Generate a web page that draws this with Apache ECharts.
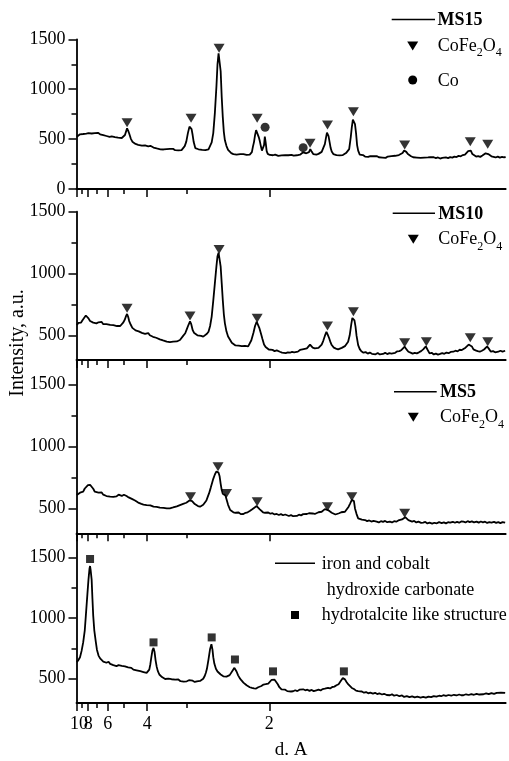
<!DOCTYPE html>
<html>
<head>
<meta charset="utf-8">
<title>XRD patterns</title>
<script src="https://cdn.jsdelivr.net/npm/echarts@6/dist/echarts.min.js"></script>
<style>
  html, body { margin: 0; padding: 0; background: #fff; }
  #chart { width: 509px; height: 761px; }
</style>
</head>
<body>
<div id="chart"></div>
<script>
// x values are 2-theta (Cu K-alpha), the axis is labelled in d-spacing
const WAVELENGTH = 1.5406;
const D_MAJOR = [10, 8, 6, 4, 2];
const D_MINOR = [9, 7, 5, 3];
const X_MAX = 90;

const Y_RANGES = [[0, 1500], [300, 1500], [300, 1700], [300, 1700]];
const Y_MAJOR = [[0, 500, 1000, 1500], [500, 1000, 1500], [500, 1000, 1500], [500, 1000, 1500]];
const Y_MINOR = [[250, 750, 1250], [750, 1250], [750, 1250], [750, 1250]];

const PANEL_NAMES = ["MS15", "MS10", "MS5", "iron and cobalt hydroxide carbonate"];

const MS15_TRACE = [[8.9,524],[9.2,541],[9.5,548],[9.8,562],[10.1,551],[10.4,568],[10.7,555],[11.1,560],[11.4,572],[11.7,556],[12.0,571],[12.3,560],[12.6,551],[12.9,563],[13.3,548],[13.6,558],[13.9,540],[14.2,546],[14.5,531],[14.8,538],[15.1,522],[15.5,527],[15.8,512],[16.1,520],[16.4,506],[16.7,514],[17.0,503],[17.4,511],[17.7,520],[18.0,541],[18.2,575],[18.4,608],[18.6,585],[18.8,556],[19.1,505],[19.4,474],[19.7,468],[20.0,452],[20.2,458],[20.5,443],[20.8,447],[21.2,434],[21.5,445],[21.8,437],[22.1,441],[22.4,428],[22.8,433],[23.1,422],[23.4,415],[23.7,420],[24.0,406],[24.3,412],[24.7,398],[25.0,405],[25.3,396],[25.6,408],[25.9,400],[26.2,410],[26.5,402],[26.8,393],[27.1,402],[27.5,389],[27.8,393],[28.1,386],[28.4,400],[28.7,390],[29.0,402],[29.3,430],[29.6,475],[29.9,560],[30.2,625],[30.4,645],[30.6,600],[30.8,541],[31.0,470],[31.3,410],[31.6,392],[31.9,398],[32.2,383],[32.6,392],[32.9,380],[33.2,389],[33.5,385],[33.8,398],[34.1,418],[34.4,468],[34.7,560],[35.0,760],[35.3,1030],[35.5,1250],[35.7,1360],[35.9,1340],[36.1,1180],[36.3,920],[36.5,720],[36.7,570],[36.9,488],[37.2,430],[37.5,392],[37.8,372],[38.1,360],[38.5,350],[38.8,358],[39.1,345],[39.4,352],[39.8,349],[40.1,338],[40.4,350],[40.7,336],[41.0,341],[41.3,330],[41.6,345],[41.8,332],[42.0,370],[42.2,425],[42.4,470],[42.6,540],[42.8,590],[42.95,610],[43.1,580],[43.3,520],[43.5,480],[43.7,430],[43.9,385],[44.1,375],[44.3,440],[44.45,525],[44.6,470],[44.8,380],[45.0,352],[45.4,341],[45.7,350],[46.0,338],[46.4,345],[46.7,341],[47.0,332],[47.3,345],[47.6,336],[47.9,331],[48.3,340],[48.6,328],[48.9,338],[49.2,331],[49.5,342],[49.9,335],[50.2,345],[50.5,338],[50.8,350],[51.1,344],[51.4,356],[51.7,368],[52.0,378],[52.3,358],[52.5,350],[52.8,370],[53.05,400],[53.3,375],[53.6,350],[53.9,355],[54.2,345],[54.6,352],[54.9,360],[55.2,372],[55.5,392],[55.8,450],[56.0,510],[56.2,565],[56.35,575],[56.5,530],[56.7,470],[56.9,410],[57.1,375],[57.4,350],[57.7,345],[58.0,340],[58.3,348],[58.6,336],[58.9,345],[59.2,340],[59.5,352],[59.8,360],[60.1,372],[60.4,400],[60.7,520],[60.9,620],[61.1,695],[61.3,708],[61.5,650],[61.7,560],[61.9,440],[62.1,385],[62.4,345],[62.7,335],[63.0,340],[63.4,325],[63.7,330],[64.0,322],[64.4,330],[64.7,318],[65.0,328],[65.3,320],[65.6,330],[66.0,318],[66.3,326],[66.7,315],[67.0,323],[67.3,312],[67.7,325],[68.0,318],[68.4,330],[68.7,322],[69.1,333],[69.4,328],[69.8,340],[70.1,348],[70.5,360],[70.8,385],[71.0,395],[71.2,372],[71.5,350],[71.8,335],[72.1,328],[72.5,318],[72.8,325],[73.2,315],[73.5,322],[73.9,312],[74.2,320],[74.6,314],[74.9,325],[75.3,316],[75.7,318],[76.0,308],[76.4,318],[76.8,310],[77.2,316],[77.6,305],[78.0,312],[78.3,305],[78.7,316],[79.1,310],[79.5,320],[79.9,315],[80.3,325],[80.7,320],[81.1,332],[81.5,328],[81.9,340],[82.3,345],[82.6,358],[82.9,380],[83.2,398],[83.4,385],[83.7,350],[84.0,335],[84.4,325],[84.8,330],[85.2,322],[85.6,335],[85.9,345],[86.2,358],[86.45,362],[86.7,350],[87.0,338],[87.3,328],[87.7,322],[88.1,316],[88.5,325],[88.9,315],[89.3,322],[89.7,318],[90.0,320]];

const MS10_TRACE = [[8.9,583],[9.2,600],[9.4,610],[9.7,603],[10.0,624],[10.3,640],[10.6,660],[10.8,650],[11.1,637],[11.4,615],[11.7,605],[12.0,602],[12.3,612],[12.6,596],[13.0,605],[13.3,597],[13.6,608],[13.9,590],[14.2,600],[14.5,591],[14.8,598],[15.2,584],[15.5,594],[15.8,583],[16.1,590],[16.5,575],[16.8,585],[17.1,575],[17.4,588],[17.7,605],[18.0,630],[18.2,655],[18.4,672],[18.6,650],[18.8,615],[19.1,585],[19.4,560],[19.7,552],[20.0,540],[20.3,547],[20.6,532],[20.9,530],[21.2,520],[21.5,526],[21.8,512],[22.1,510],[22.4,518],[22.7,500],[23.0,506],[23.3,488],[23.6,495],[23.9,480],[24.2,486],[24.6,467],[24.9,472],[25.2,458],[25.5,462],[25.9,448],[26.2,455],[26.5,444],[26.8,452],[27.1,448],[27.4,456],[27.8,450],[28.1,462],[28.4,462],[28.7,478],[29.0,495],[29.4,516],[29.7,550],[30.0,583],[30.3,612],[30.5,595],[30.8,543],[31.1,518],[31.4,505],[31.7,500],[32.0,490],[32.4,495],[32.8,489],[33.1,498],[33.5,512],[33.8,529],[34.1,575],[34.4,651],[34.7,780],[35.0,920],[35.3,1060],[35.5,1140],[35.7,1168],[35.9,1160],[36.1,1055],[36.3,920],[36.5,785],[36.7,670],[36.9,597],[37.2,530],[37.5,490],[37.9,462],[38.2,440],[38.5,428],[38.9,418],[39.2,408],[39.5,416],[39.8,402],[40.1,412],[40.4,408],[40.7,415],[41.0,403],[41.3,410],[41.6,420],[41.9,460],[42.3,520],[42.6,575],[42.9,610],[43.1,600],[43.4,560],[43.7,516],[44.0,470],[44.3,425],[44.6,405],[44.9,390],[45.2,385],[45.5,378],[45.9,382],[46.3,372],[46.7,378],[47.0,365],[47.3,367],[47.7,360],[48.0,368],[48.4,356],[48.8,362],[49.2,359],[49.6,366],[50.0,362],[50.3,372],[50.7,368],[51.1,381],[51.4,375],[51.8,388],[52.1,384],[52.4,394],[52.7,405],[53.0,425],[53.2,418],[53.5,400],[53.9,394],[54.2,402],[54.6,398],[54.9,408],[55.2,425],[55.5,455],[55.8,495],[56.1,528],[56.3,510],[56.6,478],[56.9,440],[57.1,421],[57.5,400],[57.9,392],[58.3,386],[58.6,393],[59.0,398],[59.3,405],[59.6,412],[59.9,425],[60.2,448],[60.5,500],[60.8,590],[61.0,640],[61.2,656],[61.4,620],[61.6,570],[61.8,495],[62.1,420],[62.4,388],[62.7,370],[63.1,359],[63.5,364],[63.9,352],[64.3,360],[64.7,350],[65.0,354],[65.4,346],[65.8,356],[66.2,345],[66.5,353],[66.8,349],[67.2,358],[67.6,348],[68.0,356],[68.4,352],[68.7,362],[69.1,358],[69.5,370],[69.9,372],[70.3,381],[70.6,395],[70.9,408],[71.2,388],[71.6,367],[72.0,360],[72.4,352],[72.8,358],[73.2,354],[73.6,362],[74.0,372],[74.4,386],[74.7,400],[74.9,410],[75.2,385],[75.6,354],[76.0,358],[76.4,345],[76.8,352],[77.2,344],[77.6,349],[78.0,356],[78.4,350],[78.8,360],[79.2,355],[79.6,365],[80.1,367],[80.5,375],[80.9,370],[81.3,383],[81.7,380],[82.0,394],[82.4,400],[82.7,412],[83.0,425],[83.3,440],[83.6,410],[83.9,386],[84.3,378],[84.7,372],[85.1,367],[85.5,375],[85.9,385],[86.2,395],[86.5,410],[86.8,392],[87.2,367],[87.6,372],[88.0,362],[88.3,370],[88.6,367],[89.0,375],[89.4,368],[89.9,375]];

const MS5_TRACE = [[8.9,609],[9.2,620],[9.5,628],[9.8,640],[10.1,636],[10.4,662],[10.7,672],[11.0,690],[11.2,700],[11.4,692],[11.7,676],[12.0,660],[12.3,636],[12.6,645],[13.0,628],[13.3,622],[13.6,630],[13.9,612],[14.2,618],[14.5,601],[14.8,610],[15.2,596],[15.5,604],[15.8,595],[16.1,606],[16.4,598],[16.8,612],[17.1,609],[17.4,602],[17.8,612],[18.1,598],[18.3,601],[18.7,590],[19.0,585],[19.3,578],[19.6,574],[19.9,565],[20.2,558],[20.5,548],[20.8,542],[21.1,538],[21.5,532],[21.8,535],[22.1,528],[22.4,522],[22.8,526],[23.1,516],[23.4,515],[23.7,508],[24.0,514],[24.3,504],[24.6,507],[24.9,498],[25.3,506],[25.6,500],[25.9,501],[26.2,508],[26.5,502],[26.8,510],[27.1,509],[27.4,516],[27.8,518],[28.1,526],[28.4,528],[28.7,535],[29.0,538],[29.3,544],[29.6,547],[29.9,556],[30.2,565],[30.4,572],[30.7,560],[31.0,545],[31.2,536],[31.5,528],[31.8,520],[32.2,515],[32.5,522],[32.8,530],[33.1,542],[33.4,565],[33.7,600],[33.9,622],[34.2,665],[34.5,710],[34.7,740],[35.0,775],[35.3,800],[35.5,810],[35.7,790],[35.9,760],[36.1,700],[36.3,649],[36.5,620],[36.7,610],[37.0,605],[37.2,595],[37.5,530],[37.9,488],[38.2,478],[38.5,470],[38.9,466],[39.2,461],[39.5,468],[39.9,455],[40.2,462],[40.4,456],[40.8,466],[41.2,470],[41.6,480],[42.0,492],[42.4,505],[42.7,515],[42.9,520],[43.2,505],[43.5,493],[43.8,482],[44.1,470],[44.5,466],[44.8,460],[45.1,468],[45.5,458],[45.9,462],[46.3,452],[46.7,456],[47.1,448],[47.5,455],[47.9,446],[48.3,452],[48.6,448],[49.0,440],[49.4,447],[49.8,438],[50.1,444],[50.5,440],[50.9,450],[51.3,445],[51.7,455],[52.0,450],[52.4,456],[52.8,462],[53.1,452],[53.5,460],[53.9,456],[54.2,465],[54.6,470],[54.9,468],[55.2,474],[55.5,485],[55.8,495],[56.1,501],[56.4,488],[56.7,472],[57.1,466],[57.4,460],[57.8,452],[58.1,458],[58.5,462],[58.9,470],[59.2,468],[59.6,474],[59.9,490],[60.3,515],[60.6,542],[60.9,570],[61.1,582],[61.3,560],[61.5,501],[61.8,455],[62.1,421],[62.4,415],[62.8,410],[63.1,402],[63.4,407],[63.8,398],[64.2,404],[64.6,395],[65.0,400],[65.3,390],[65.6,394],[66.0,388],[66.4,398],[66.8,392],[67.2,400],[67.6,390],[68.1,394],[68.5,388],[68.9,398],[69.3,394],[69.7,404],[70.0,402],[70.4,412],[70.7,422],[71.0,430],[71.3,418],[71.6,406],[71.9,402],[72.3,395],[72.7,400],[73.1,388],[73.5,394],[74.0,384],[74.4,386],[74.8,392],[75.2,380],[75.6,386],[76.1,378],[76.5,385],[77.0,381],[77.4,390],[77.9,382],[78.3,388],[78.7,380],[79.1,390],[79.5,386],[80.0,393],[80.4,385],[80.8,392],[81.2,386],[81.6,396],[82.0,394],[82.4,388],[82.8,398],[83.2,390],[83.6,396],[84.0,388],[84.5,394],[84.9,386],[85.3,395],[85.7,388],[86.1,394],[86.5,384],[86.9,390],[87.3,386],[87.8,392],[88.2,384],[88.6,390],[89.0,382],[89.4,390],[89.9,386]];

const PRECURSOR_TRACE = [[8.9,637],[9.2,655],[9.5,678],[9.8,730],[10.1,800],[10.4,900],[10.6,1019],[10.9,1200],[11.1,1318],[11.3,1410],[11.4,1430],[11.5,1400],[11.7,1318],[11.85,1160],[12.0,1019],[12.2,900],[12.5,800],[12.7,740],[13.0,691],[13.3,668],[13.6,652],[13.9,642],[14.2,650],[14.5,632],[14.9,640],[15.2,623],[15.5,635],[15.8,612],[16.1,620],[16.4,604],[16.8,612],[17.1,598],[17.4,606],[17.7,596],[18.0,602],[18.3,588],[18.6,594],[18.9,582],[19.2,590],[19.6,575],[19.9,582],[20.2,569],[20.5,576],[20.9,562],[21.2,568],[21.5,555],[21.8,562],[22.1,548],[22.4,550],[22.6,575],[22.8,620],[23.0,680],[23.2,735],[23.4,755],[23.6,720],[23.8,650],[24.0,600],[24.2,565],[24.5,535],[24.8,522],[25.0,514],[25.3,505],[25.6,498],[25.9,495],[26.2,502],[26.5,490],[26.8,496],[27.1,485],[27.5,492],[27.8,487],[28.1,494],[28.5,480],[28.8,488],[29.1,476],[29.4,485],[29.7,479],[30.1,488],[30.4,476],[30.8,484],[31.2,474],[31.6,479],[31.9,486],[32.2,482],[32.5,492],[32.8,500],[33.1,525],[33.3,550],[33.5,582],[33.8,660],[34.1,746],[34.35,785],[34.55,740],[34.7,678],[34.9,625],[35.2,582],[35.5,560],[35.8,545],[36.1,535],[36.3,528],[36.6,520],[36.9,514],[37.2,518],[37.5,522],[37.8,530],[38.1,545],[38.4,570],[38.7,590],[38.9,585],[39.1,560],[39.4,528],[39.7,505],[40.0,488],[40.4,468],[40.7,455],[41.0,446],[41.3,438],[41.6,430],[42.0,424],[42.4,420],[42.8,419],[43.2,430],[43.5,446],[43.8,440],[44.2,452],[44.6,455],[45.1,460],[45.4,475],[45.7,490],[46.0,502],[46.3,492],[46.6,479],[46.9,455],[47.2,430],[47.6,412],[47.9,405],[48.3,410],[48.7,398],[49.0,405],[49.4,395],[49.8,397],[50.2,405],[50.6,398],[51.0,410],[51.3,403],[51.7,413],[52.1,405],[52.5,410],[52.9,400],[53.3,408],[53.7,398],[54.2,405],[54.6,410],[55.0,404],[55.4,415],[55.8,418],[56.4,424],[56.8,420],[57.2,432],[57.6,435],[58.0,446],[58.4,455],[58.9,487],[59.2,505],[59.4,514],[59.6,495],[59.9,473],[60.2,455],[60.5,440],[60.9,424],[61.3,415],[61.7,402],[62.1,398],[62.4,391],[62.8,395],[63.2,385],[63.6,390],[64.0,380],[64.4,386],[64.9,378],[65.3,384],[65.7,374],[66.1,380],[66.6,370],[67.0,376],[67.5,366],[68.1,364],[68.5,372],[68.9,360],[69.4,366],[69.9,356],[70.4,362],[70.8,350],[71.3,356],[71.8,348],[72.3,355],[72.8,346],[73.3,352],[73.9,345],[74.4,350],[74.9,344],[75.4,353],[75.9,348],[76.4,357],[76.9,352],[77.4,360],[77.8,356],[78.2,364],[78.7,358],[79.2,366],[79.7,360],[80.2,368],[80.7,362],[81.2,370],[81.6,364],[82.0,364],[82.5,372],[83.0,366],[83.5,374],[84.0,368],[84.5,376],[85.0,370],[85.8,372],[86.3,380],[86.8,373],[87.3,382],[87.8,375],[88.3,384],[88.6,378],[89.1,386],[89.9,383]];

// reflection markers [2theta, intensity]
const MS15_SPINEL = [[18.4,664],[30.5,709],[35.8,1410],[43.0,709],[53.0,458],[56.3,641],[61.2,775],[70.9,441],[83.3,474],[86.6,448]];
const MS15_COBALT = [[44.5,619],[51.7,414]];
const MS10_SPINEL = [[18.4,718],[30.3,656],[35.8,1195],[43.0,637],[56.3,575],[61.2,691],[70.9,440],[75.0,448],[83.3,481],[86.6,448]];
const MS5_SPINEL = [[30.4,595],[35.6,837],[37.2,622],[43.0,555],[56.3,515],[60.9,595],[70.9,461]];
const PRECURSOR_HT = [[11.4,1488],[23.4,800],[34.4,841],[38.8,659],[46.0,561],[59.4,561]];

const FONT = "'Liberation Serif', 'Times New Roman', serif";
const GRIDS = [
  { top: 39.3, height: 149.7 },
  { top: 211.7, height: 148.3 },
  { top: 360, height: 173.3 },
  { top: 533.3, height: 171.2 },
];

const toTwoTheta = (d) => (2 * Math.asin(WAVELENGTH / (2 * d)) * 180) / Math.PI;
const toD = (tt) => WAVELENGTH / (2 * Math.sin((tt * Math.PI) / 360));
const X_MIN = toTwoTheta(10);

const labelStyle = { color: "#000", fontFamily: FONT, fontSize: 18, margin: 12 };

function xAxesFor(i) {
  const last = i === GRIDS.length - 1;
  const base = {
    type: "value",
    gridIndex: i,
    position: "bottom",
    min: X_MIN,
    max: X_MAX,
    splitLine: { show: false },
  };
  return [
    {
      ...base,
      axisLine: { onZero: false, lineStyle: { color: "#000", width: 1.8 } },
      axisTick: { customValues: D_MAJOR.map(toTwoTheta), length: 8, lineStyle: { color: "#000", width: 1.5 } },
      axisLabel: {
        ...labelStyle,
        show: last,
        // the "10" at the edge is drawn by the companion axis so it can crowd the "8"
        customValues: D_MAJOR.slice(1).map(toTwoTheta),
        hideOverlap: false,
        formatter: (v) => String(Math.round(toD(v))),
      },
      name: last ? "d. A" : "",
      nameLocation: "middle",
      nameGap: 38,
      nameTextStyle: { color: "#000", fontFamily: FONT, fontSize: 19 },
    },
    {
      ...base,
      axisLine: { show: false, onZero: false },
      axisTick: { customValues: D_MINOR.map(toTwoTheta), length: 5, lineStyle: { color: "#000", width: 1.5 } },
      axisLabel: {
        ...labelStyle,
        show: last,
        customValues: [toTwoTheta(D_MAJOR[0])],
        showMinLabel: true,
        formatter: (v) => `{f|${Math.round(toD(v))}}`,
        rich: { f: { fontFamily: FONT, fontSize: 18, color: "#000", padding: [0, 0, 0, 5] } },
      },
    },
  ];
}

function yAxesFor(i) {
  const base = {
    type: "value",
    gridIndex: i,
    position: "left",
    min: Y_RANGES[i][0],
    max: Y_RANGES[i][1],
    splitLine: { show: false },
  };
  return [
    {
      ...base,
      axisLine: { show: true, onZero: false, lineStyle: { color: "#000", width: 1.8 } },
      axisTick: { customValues: Y_MAJOR[i], length: 8, lineStyle: { color: "#000", width: 1.5 } },
      axisLabel: {
        customValues: Y_MAJOR[i],
        color: "#000",
        fontFamily: FONT,
        fontSize: 18,
        margin: 11,
        formatter: (v) => String(v),
      },
    },
    {
      ...base,
      axisLine: { show: false, onZero: false },
      axisTick: { customValues: Y_MINOR[i], length: 5, lineStyle: { color: "#000", width: 1.5 } },
      axisLabel: { show: false },
    },
  ];
}

function traceSeries(i, data) {
  return {
    name: PANEL_NAMES[i],
    type: "line",
    xAxisIndex: 2 * i,
    yAxisIndex: 2 * i,
    data,
    showSymbol: false,
    symbol: "none",
    lineStyle: { color: "#000", width: 1.8 },
    silent: true,
  };
}

function markerSeries(i, data, symbol, size, rotate) {
  return {
    type: "scatter",
    xAxisIndex: 2 * i,
    yAxisIndex: 2 * i,
    data,
    symbol,
    symbolSize: size,
    symbolRotate: rotate || 0,
    itemStyle: { color: "#000" },
    silent: true,
  };
}

// legend pieces
const down = (x, y) => ({
  type: "polygon",
  shape: { points: [[x - 5.5, y - 4.5], [x + 5.5, y - 4.5], [x, y + 4.5]] },
  style: { fill: "#000" },
});
const sampleLine = (x1, x2, y) => ({
  type: "line",
  shape: { x1, y1: y, x2, y2: y },
  style: { stroke: "#000", lineWidth: 1.5 },
});
const text = (x, y, str, bold) => ({
  type: "text",
  x,
  y,
  style: {
    text: str,
    fill: "#000",
    font: `${bold ? "bold " : ""}18px ${FONT}`,
    verticalAlign: "middle",
    textVerticalAlign: "middle",
  },
});
const spinelText = (x, y) => ({
  type: "text",
  x,
  y,
  style: {
    text: "{a|CoFe}{s|2}{a|O}{s|4}",
    fill: "#000",
    font: `18px ${FONT}`,
    verticalAlign: "middle",
    textVerticalAlign: "middle",
    rich: {
      a: { fontFamily: FONT, fontSize: 18, fill: "#000", color: "#000" },
      s: { fontFamily: FONT, fontSize: 12, fill: "#000", color: "#000", padding: [15, 0, 0, 0] },
    },
  },
});

const graphics = [
  sampleLine(391.7, 435, 19.5), text(437.5, 20.8, "MS15", true),
  down(412.7, 46), spinelText(437.7, 45.8),
  { type: "circle", shape: { cx: 412.7, cy: 80, r: 4.5 }, style: { fill: "#000" } }, text(437.7, 80.8, "Co"),

  sampleLine(392.7, 435, 213.3), text(438.3, 214.2, "MS10", true),
  down(413.3, 239.3), spinelText(438.3, 239.2),

  sampleLine(394, 436.7, 391.7), text(440, 392.5, "MS5", true),
  down(413.3, 417.3), spinelText(440, 417.5),

  sampleLine(275, 315, 563.3), text(321.7, 564.2, "iron and cobalt"),
  text(326.7, 590, "hydroxide carbonate"),
  { type: "rect", shape: { x: 291, y: 611, width: 8, height: 8 }, style: { fill: "#000" } },
  text(321.7, 615, "hydrotalcite like structure"),

  {
    type: "text",
    x: 18,
    y: 343,
    rotation: Math.PI / 2,
    style: {
      text: "Intensity, a.u.",
      fill: "#000",
      font: `20px ${FONT}`,
      align: "center",
      textAlign: "center",
      verticalAlign: "middle",
      textVerticalAlign: "middle",
    },
  },
];

const chart = echarts.init(document.getElementById("chart"), null, { renderer: "canvas" });

chart.setOption({
  animation: false,
  backgroundColor: "#fff",
  grid: GRIDS.map((g) => ({ left: 76.5, right: 3.3, top: g.top, height: g.height, containLabel: false })),
  xAxis: GRIDS.flatMap((g, i) => xAxesFor(i)),
  yAxis: GRIDS.flatMap((g, i) => yAxesFor(i)),
  series: [
    traceSeries(0, MS15_TRACE),
    markerSeries(0, MS15_SPINEL, "triangle", [11, 9], 180),
    markerSeries(0, MS15_COBALT, "circle", 9),
    traceSeries(1, MS10_TRACE),
    markerSeries(1, MS10_SPINEL, "triangle", [11, 9], 180),
    traceSeries(2, MS5_TRACE),
    markerSeries(2, MS5_SPINEL, "triangle", [11, 9], 180),
    traceSeries(3, PRECURSOR_TRACE),
    markerSeries(3, PRECURSOR_HT, "rect", 8),
  ],
  graphic: graphics,
});
</script>
</body>
</html>
